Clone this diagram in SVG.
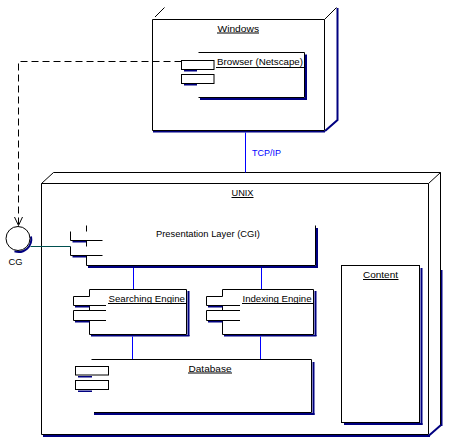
<svg xmlns="http://www.w3.org/2000/svg" width="449" height="442" viewBox="0 0 449 442">
<style>
.ln{fill:none;stroke:#000;stroke-width:1}
.bx{fill:#fff;stroke:#000;stroke-width:1}
.sh{fill:#000080;stroke:none}
.shl{fill:none;stroke:#000080;stroke-width:2}
.cn{fill:none;stroke:#0000ff;stroke-width:1}
.t{font-family:"Liberation Sans",Arial,Helvetica,sans-serif;font-size:9.5px;fill:#000}
.tb{fill:#0000ff}
</style>
<rect x="0" y="0" width="449" height="442" fill="#fff"/>

<g id="node-windows">
  <path class="ln" d="M152.5,19.5 H324.5 V130.5 H152.5 Z"/>
  <path class="ln" d="M155,17 L164.5,7.5"/>
  <path class="ln" d="M324.5,19.5 L336.5,7.5"/>
  <path class="shl" d="M337.5,8 V120 L325,131"/>
  <rect class="sh" x="153" y="131" width="172" height="1.5"/>
  <text class="t" x="217.5" y="31.5" textLength="41.5" lengthAdjust="spacingAndGlyphs">Windows</text>
  <path class="ln" d="M217,33 H259"/>
</g>

<g id="node-browser">
  <rect class="sh" x="305" y="54.5" width="2" height="45"/>
  <rect class="sh" x="200" y="98" width="107" height="2"/>
  <path class="ln" d="M198.5,52.5 H304.5 V97.5 H198.5"/>
  <rect class="bx" x="181.5" y="60.5" width="32.5" height="9"/>
  <rect class="sh" x="184" y="70" width="13" height="1.5"/>
  <rect class="bx" x="181.5" y="74.5" width="32.5" height="9"/>
  <rect class="sh" x="184" y="84" width="13" height="1.5"/>
  <text class="t" x="217" y="65" textLength="86" lengthAdjust="spacingAndGlyphs">Browser (Netscape)</text>
  <path class="ln" d="M216,67.5 H304.5"/>
</g>

<g id="node-unix">
  <path class="ln" d="M41.5,183.5 H428.5 V434.5 H41.5 Z"/>
  <path class="ln" d="M41.5,183.5 L53.5,172.5 H440.5 V425"/>
  <path class="ln" d="M428.5,183.5 L440.5,172.5"/>
  <rect class="sh" x="441" y="270" width="1.5" height="156"/>
  <path class="shl" d="M429,435.5 L441,425"/>
  <rect class="sh" x="43" y="435" width="387" height="2"/>
  <text class="t" x="231.5" y="196" textLength="22" lengthAdjust="spacingAndGlyphs">UNIX</text>
  <path class="ln" d="M231.5,197.5 H253.5"/>
</g>

<g id="node-cg">
  <path class="shl" d="M31,236.5 A12.8 12.8 0 0 1 14.5,251.3" stroke-width="2.5"/>
  <circle cx="18" cy="238.5" r="12" fill="#fff" stroke="#000" stroke-width="1"/>
  <text class="t" x="8.5" y="265" textLength="14" lengthAdjust="spacingAndGlyphs">CG</text>
</g>

<g id="node-presentation">
  <rect class="sh" x="316" y="228" width="2" height="40"/>
  <rect class="sh" x="88" y="266" width="230" height="2"/>
  <path class="ln" d="M86.5,225.5 V231.5"/>
  <path class="ln" d="M70.5,231.5 V240.5 H102.5"/>
  <rect class="sh" x="72.5" y="241" width="14" height="1.5"/>
  <path class="ln" d="M86.5,240.5 V246.5"/>
  <path class="ln" d="M70.5,246.5 V255.5 H102.5"/>
  <rect class="sh" x="72.5" y="256" width="14" height="1.5"/>
  <path class="ln" d="M86.5,255.5 V265.5 H315.5 V225.5"/>
  <text class="t" x="156" y="236.5" textLength="104" lengthAdjust="spacingAndGlyphs">Presentation Layer (CGI)</text>
</g>

<g id="node-searching">
  <rect class="sh" x="187.5" y="291" width="2" height="45"/>
  <rect class="sh" x="91" y="335" width="98.5" height="1.5"/>
  <path class="ln" d="M89.5,296.5 V289.5 H186.5 V334.5 H89.5 V320.5"/>
  <path class="ln" d="M89.5,305.5 V310.5"/>
  <path class="ln" d="M89.5,296.5 H73.5 V305.5 H106"/>
  <rect class="sh" x="75" y="306" width="14.5" height="1.5"/>
  <path class="ln" d="M106,310.5 H73.5 V320.5 H106"/>
  <rect class="sh" x="75" y="321" width="14.5" height="1.5"/>
  <text class="t" x="108.5" y="302" textLength="76.5" lengthAdjust="spacingAndGlyphs">Searching Engine</text>
  <path class="ln" d="M108,303.5 H186.5"/>
</g>

<g id="node-indexing">
  <rect class="sh" x="314.5" y="291" width="2" height="45"/>
  <rect class="sh" x="224" y="335" width="92.5" height="1.5"/>
  <path class="ln" d="M222.5,296.5 V289.5 H313.5 V334.5 H222.5 V320.5"/>
  <path class="ln" d="M222.5,305.5 V310.5"/>
  <path class="ln" d="M222.5,296.5 H206.5 V305.5 H240"/>
  <rect class="sh" x="208" y="306" width="14.5" height="1.5"/>
  <path class="ln" d="M240,310.5 H206.5 V320.5 H240"/>
  <rect class="sh" x="208" y="321" width="14.5" height="1.5"/>
  <text class="t" x="242.5" y="302" textLength="69" lengthAdjust="spacingAndGlyphs">Indexing Engine</text>
  <path class="ln" d="M242,303.5 H313.5"/>
</g>

<g id="node-database">
  <rect class="sh" x="312.5" y="362" width="2" height="53"/>
  <rect class="sh" x="94" y="413" width="220.5" height="2"/>
  <path class="ln" d="M91.5,359.5 H311.5 V412.5 H94"/>
  <rect class="bx" x="75.5" y="366.5" width="33" height="8.5"/>
  <rect class="sh" x="78" y="376" width="14" height="1.5"/>
  <rect class="bx" x="75.5" y="380.5" width="33" height="9"/>
  <rect class="sh" x="78" y="390.5" width="14" height="1.5"/>
  <text class="t" x="188.5" y="371.5" textLength="43" lengthAdjust="spacingAndGlyphs">Database</text>
  <path class="ln" d="M188,373 H232"/>
</g>

<g id="node-content">
  <rect class="sh" x="420.5" y="268" width="2" height="157"/>
  <rect class="sh" x="344" y="423" width="78.5" height="2"/>
  <rect class="bx" x="341.5" y="265.5" width="78" height="157"/>
  <text class="t" x="363" y="278" textLength="35" lengthAdjust="spacingAndGlyphs">Content</text>
  <path class="ln" d="M363,279.5 H398.5"/>
</g>

<g id="connectors">
  <path class="cn" d="M245.5,132.5 V172.5"/>
  <text class="t tb" x="252" y="156" textLength="29" lengthAdjust="spacingAndGlyphs">TCP/IP</text>
  <path class="ln" d="M181.5,61.5 H18.5 V225" stroke-dasharray="7,4"/>
  <path class="ln" d="M14.5,217 L18.5,225.5 L22.5,217"/>
  <path fill="none" stroke="#005050" stroke-width="1" d="M30.5,246.5 H70.5"/>
  <path class="cn" d="M133.5,268 V289"/>
  <path class="cn" d="M261.5,268 V289"/>
  <path class="cn" d="M132.5,336.5 V359"/>
  <path class="cn" d="M260.5,336.5 V359"/>
</g>
</svg>
